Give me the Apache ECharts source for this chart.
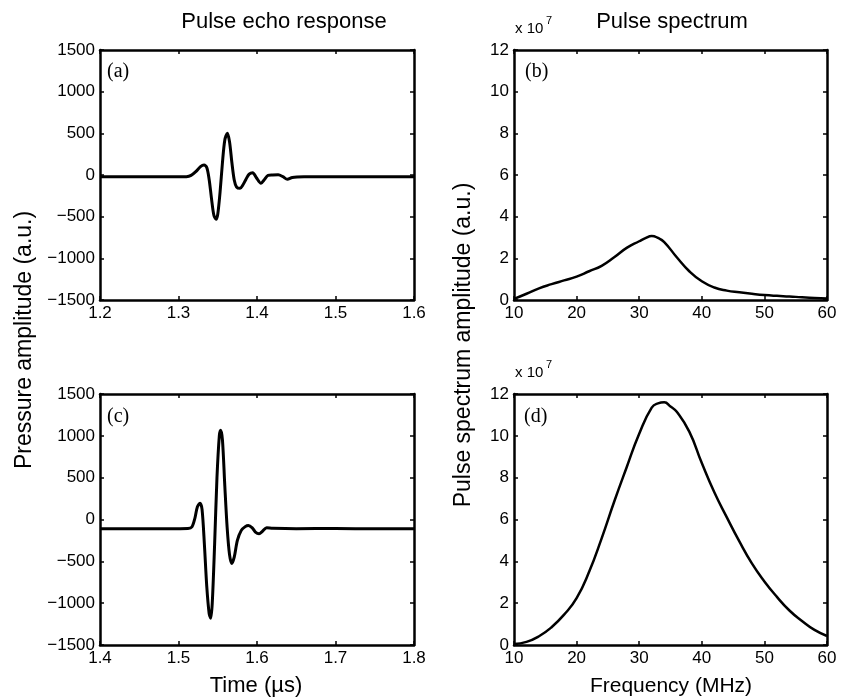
<!DOCTYPE html>
<html>
<head>
<meta charset="utf-8">
<script src="https://cdn.jsdelivr.net/npm/echarts@6/dist/echarts.min.js"></script>
<style>
  html, body { margin: 0; padding: 0; background: #fff; }
  #chart { width: 842px; height: 700px; }
</style>
</head>
<body>
<div id="chart"></div>
<script>
  // (a) pulse echo response, first transducer
  const timeA = [1.2, 1.25, 1.30, 1.31, 1.316, 1.322, 1.328, 1.3325, 1.336, 1.339, 1.342, 1.345, 1.3478, 1.350, 1.353,
    1.356, 1.359, 1.3622, 1.365, 1.368, 1.371, 1.374, 1.3784, 1.382, 1.386, 1.390, 1.3945, 1.399, 1.4051, 1.409,
    1.414, 1.420, 1.427, 1.433, 1.4387, 1.445, 1.46, 1.5, 1.55, 1.6];
  const pulseA = [-20, -22, -22, -20, -5, 40, 100, 120, 90, -50, -280, -480, -531, -470, -200,
    150, 420, 500, 400, 150, -60, -145, -160, -120, -50, 10, 28, -30, -100, -60,
    -5, 0, 2, -20, -52, -30, -22, -20, -22, -20];

  // (c) pulse echo response, second transducer
  const timeC = [1.4, 1.45, 1.5, 1.512, 1.517, 1.521, 1.524, 1.5274, 1.530, 1.533, 1.536, 1.539, 1.541, 1.543, 1.546,
    1.549, 1.552, 1.5537, 1.556, 1.559, 1.562, 1.565, 1.5678, 1.571, 1.575, 1.580, 1.585, 1.589, 1.594, 1.598,
    1.6026, 1.607, 1.6123, 1.62, 1.65, 1.7, 1.75, 1.8];
  const pulseC = [-110, -112, -110, -108, -90, 20, 150, 194, 120, -300, -800, -1120, -1180, -1000, -300,
    500, 1000, 1068, 950, 400, -100, -420, -527, -450, -250, -130, -85, -71, -100, -150,
    -170, -140, -99, -105, -110, -108, -112, -110];

  // (b) spectrum, x 10^7
  const freqB = [10, 12, 14, 16, 18, 20, 22, 24, 26, 28, 30, 31, 32, 33, 34, 36, 38, 40, 42, 44, 46, 48, 50, 52, 54, 56, 58, 60];
  const specB = [0.05, 0.3, 0.56, 0.76, 0.94, 1.12, 1.38, 1.64, 2.05, 2.5, 2.82, 2.97, 3.07, 2.98, 2.78, 2.05, 1.38, 0.9,
    0.6, 0.45, 0.37, 0.3, 0.24, 0.2, 0.17, 0.13, 0.1, 0.07];

  // (d) spectrum, x 10^7
  const freqD = [10, 12, 14, 16, 18, 20, 22, 24, 26, 28, 30, 32, 33, 34, 35, 36, 38, 40, 42, 44, 46, 48, 50, 52, 54, 56, 58, 60];
  const specD = [0.05, 0.15, 0.42, 0.85, 1.45, 2.24, 3.5, 5.1, 6.85, 8.5, 10.1, 11.35, 11.55, 11.6, 11.4, 11.15, 10.2, 8.7,
    7.3, 6.1, 4.95, 3.9, 3.04, 2.3, 1.65, 1.15, 0.72, 0.43];

  const sans = 'Liberation Sans';
  const serif = 'Liberation Serif';

  const grids = [
    {left: 100, top: 50, width: 314, height: 250},
    {left: 514, top: 50, width: 313, height: 250},
    {left: 100, top: 394, width: 314, height: 251},
    {left: 514, top: 394, width: 313, height: 251}
  ];
  const xRange = [[1.2, 1.6, 0.1], [10, 60, 10], [1.4, 1.8, 0.1], [10, 60, 10]];
  const yRange = [[-1500, 1500, 500], [0, 12, 2], [-1500, 1500, 500], [0, 12, 2]];

  function axisCommon(show) {
    return {
      axisLine: {show: true, onZero: false, lineStyle: {color: '#000', width: 2.5}},
      axisTick: {show: true, inside: true, length: 4, lineStyle: {color: '#000', width: 1.5}},
      splitLine: {show: false},
      axisLabel: {show: show, color: '#000', fontFamily: sans, fontSize: 17}
    };
  }

  const xAxes = [], yAxes = [];
  for (let i = 0; i < 4; i++) {
    const xr = xRange[i], yr = yRange[i];
    const xb = Object.assign(axisCommon(true), {type: 'value', gridIndex: i, position: 'bottom',
      min: xr[0], max: xr[1], interval: xr[2]});
    xb.axisLabel.margin = 5;
    xb.axisLabel.formatter = v => (xr[2] < 1 ? v.toFixed(1) : String(v));
    xAxes.push(xb);
    xAxes.push(Object.assign(axisCommon(false), {type: 'value', gridIndex: i, position: 'top',
      min: xr[0], max: xr[1], interval: xr[2]}));
    const yl = Object.assign(axisCommon(true), {type: 'value', gridIndex: i, position: 'left',
      min: yr[0], max: yr[1], interval: yr[2]});
    yl.axisLabel.margin = 5;
    yl.axisLabel.formatter = v => String(v).replace('-', '\u2212');
    yAxes.push(yl);
    yAxes.push(Object.assign(axisCommon(false), {type: 'value', gridIndex: i, position: 'right',
      min: yr[0], max: yr[1], interval: yr[2]}));
  }

  function pairs(xs, ys) {
    return xs.map((x, i) => [x, ys[i]]);
  }

  function lineSeries(idx, data, w, sm) {
    return {
      type: 'line', xAxisIndex: idx * 2, yAxisIndex: idx * 2, data: data,
      showSymbol: false, smooth: sm, silent: true,
      lineStyle: {color: '#000', width: w}
    };
  }

  function txt(x, y, s, size, opt) {
    return {
      type: 'text', x: x, y: y, rotation: (opt && opt.rot) || 0,
      style: Object.assign({text: s, fill: '#000', fontFamily: sans, fontSize: size,
        textAlign: 'center', textVerticalAlign: 'middle'}, (opt && opt.style) || {})
    };
  }

  const chart = echarts.init(document.getElementById('chart'), null, {renderer: 'canvas'});
  chart.setOption({
    animation: false,
    backgroundColor: '#fff',
    grid: grids,
    xAxis: xAxes,
    yAxis: yAxes,
    series: [
      lineSeries(0, pairs(timeA, pulseA), 3, 0.3),
      lineSeries(1, pairs(freqB, specB), 2.5, 0.5),
      lineSeries(2, pairs(timeC, pulseC), 3, 0.3),
      lineSeries(3, pairs(freqD, specD), 2.5, 0.5)
    ],
    graphic: [
      txt(284, 22, 'Pulse echo response', 22),
      txt(672, 22, 'Pulse spectrum', 22),
      txt(25, 340, 'Pressure amplitude (a.u.)', 23, {rot: Math.PI / 2}),
      txt(464, 345, 'Pulse spectrum amplitude (a.u.)', 23, {rot: Math.PI / 2}),
      txt(256, 686, 'Time (\u00b5s)', 22),
      txt(671, 686, 'Frequency (MHz)', 21),
      txt(107, 72, '(a)', 20, {style: {fontFamily: serif, textAlign: 'left'}}),
      txt(525, 72, '(b)', 20, {style: {fontFamily: serif, textAlign: 'left'}}),
      txt(107, 417, '(c)', 20, {style: {fontFamily: serif, textAlign: 'left'}}),
      txt(524, 417, '(d)', 20, {style: {fontFamily: serif, textAlign: 'left'}}),
      txt(515, 29, 'x 10', 15, {style: {textAlign: 'left'}}),
      txt(546, 21, '7', 11, {style: {textAlign: 'left'}}),
      txt(515, 373, 'x 10', 15, {style: {textAlign: 'left'}}),
      txt(546, 365, '7', 11, {style: {textAlign: 'left'}})
    ]
  });
  window.addEventListener('resize', function () {
    chart.resize();
  });
</script>
</body>
</html>
